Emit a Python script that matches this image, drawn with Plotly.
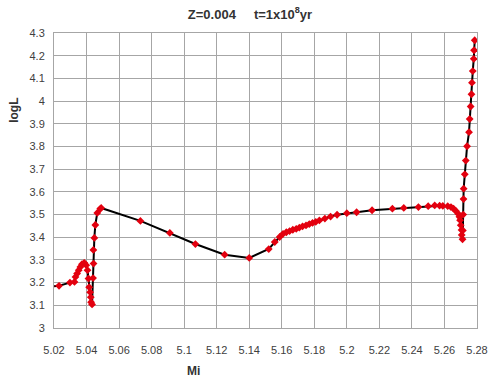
import plotly.graph_objects as go

mi = [5.018, 5.0231, 5.0298, 5.0326, 5.0332, 5.0342, 5.0352, 5.0362, 5.0372, 5.0386,
      5.0398, 5.0406, 5.0412, 5.0416, 5.0422, 5.0426, 5.0428, 5.0434,
      5.0440, 5.0443, 5.0442, 5.0448, 5.0454, 5.0466, 5.0484, 5.0490,
      5.0731, 5.0912, 5.1069, 5.1249, 5.1400, 5.1520, 5.1557, 5.1587,
      5.1608, 5.1628, 5.1648, 5.1668, 5.1689, 5.1708, 5.1728, 5.1749, 5.1769, 5.1789,
      5.1809, 5.1831, 5.1865, 5.1900, 5.1940, 5.2000, 5.2060, 5.2155, 5.2280, 5.2350,
      5.2440, 5.2500, 5.2540, 5.2570, 5.2590, 5.2620, 5.2640, 5.2656, 5.2670, 5.2684,
      5.2692, 5.2696, 5.2700, 5.2705, 5.2706, 5.2711,
      5.2713, 5.2715, 5.2717, 5.2718, 5.2725, 5.2731, 5.2739, 5.2751, 5.2755, 5.2761,
      5.2766, 5.2769, 5.2774, 5.2780, 5.2782, 5.2786]
logl = [3.183, 3.186, 3.200, 3.203, 3.225, 3.240, 3.255, 3.269, 3.281, 3.287,
        3.277, 3.255, 3.218, 3.180, 3.158, 3.136, 3.114, 3.104,
        3.220, 3.284, 3.344, 3.397, 3.454, 3.507, 3.525, 3.529,
        3.472, 3.419, 3.370, 3.323, 3.309, 3.348, 3.379, 3.401,
        3.415, 3.422, 3.427, 3.433, 3.437, 3.442, 3.448, 3.452, 3.458, 3.463,
        3.468, 3.474, 3.482, 3.491, 3.499, 3.506, 3.510, 3.519, 3.526, 3.529,
        3.533, 3.537, 3.540, 3.539, 3.538, 3.537, 3.533, 3.526, 3.516, 3.504,
        3.490, 3.475, 3.453, 3.432, 3.410, 3.391,
        3.430, 3.500, 3.568, 3.614, 3.677, 3.738, 3.801, 3.863, 3.921, 3.976,
        4.030, 4.081, 4.132, 4.186, 4.224, 4.268]

x_ticks = [5.02, 5.04, 5.06, 5.08, 5.10, 5.12, 5.14, 5.16, 5.18, 5.20, 5.22, 5.24, 5.26, 5.28]
x_labels = ["5.02", "5.04", "5.06", "5.08", "5.1", "5.12", "5.14", "5.16", "5.18", "5.2",
            "5.22", "5.24", "5.26", "5.28"]
y_ticks = [3.0, 3.1, 3.2, 3.3, 3.4, 3.5, 3.6, 3.7, 3.8, 3.9, 4.0, 4.1, 4.2, 4.3]
y_labels = ["3", "3.1", "3.2", "3.3", "3.4", "3.5", "3.6", "3.7", "3.8", "3.9", "4",
            "4.1", "4.2", "4.3"]

font = "Liberation Sans"
fig = go.Figure()
fig.add_trace(go.Scatter(
    x=mi, y=logl, mode="lines+markers",
    line=dict(color="black", width=2),
    marker=dict(symbol="diamond", size=6, color="#e3000f"),
    showlegend=False,
))

grid = "#a6a6a6"
fig.update_layout(
    width=500, height=379,
    margin=dict(l=54, r=17, t=33, b=51),
    paper_bgcolor="white", plot_bgcolor="white",
    font=dict(family=font, size=11, color="#404040"),
    title=dict(text="<b>Z=0.004     t=1x10<sup>8</sup>yr</b>", x=0.5, xanchor="center",
               y=0.962, yanchor="middle", font=dict(family=font, size=13, color="#333333")),
    xaxis=dict(range=[5.02, 5.28], tickvals=x_ticks, ticktext=x_labels,
               showgrid=True, gridcolor=grid, gridwidth=1, zeroline=False,
               showline=True, linecolor=grid, mirror=True, ticks="", ticklabelstandoff=12),
    yaxis=dict(range=[3.0, 4.3], tickvals=y_ticks, ticktext=y_labels,
               showgrid=True, gridcolor=grid, gridwidth=1, zeroline=False,
               showline=True, linecolor=grid, mirror=True, ticks="", ticklabelstandoff=6),
    annotations=[
        dict(text="<b>Mi</b>", xref="paper", yref="paper", x=(195 - 54) / 429, y=-0.145,
             xanchor="center", yanchor="middle", showarrow=False,
             font=dict(family=font, size=12, color="#333333")),
        dict(text="<b>logL</b>", xref="paper", yref="paper", x=-0.095, y=(328 - 110) / 295,
             xanchor="center", yanchor="middle", showarrow=False, textangle=-90,
             font=dict(family=font, size=12, color="#333333")),
    ],
)
fig.write_html("out.html")
